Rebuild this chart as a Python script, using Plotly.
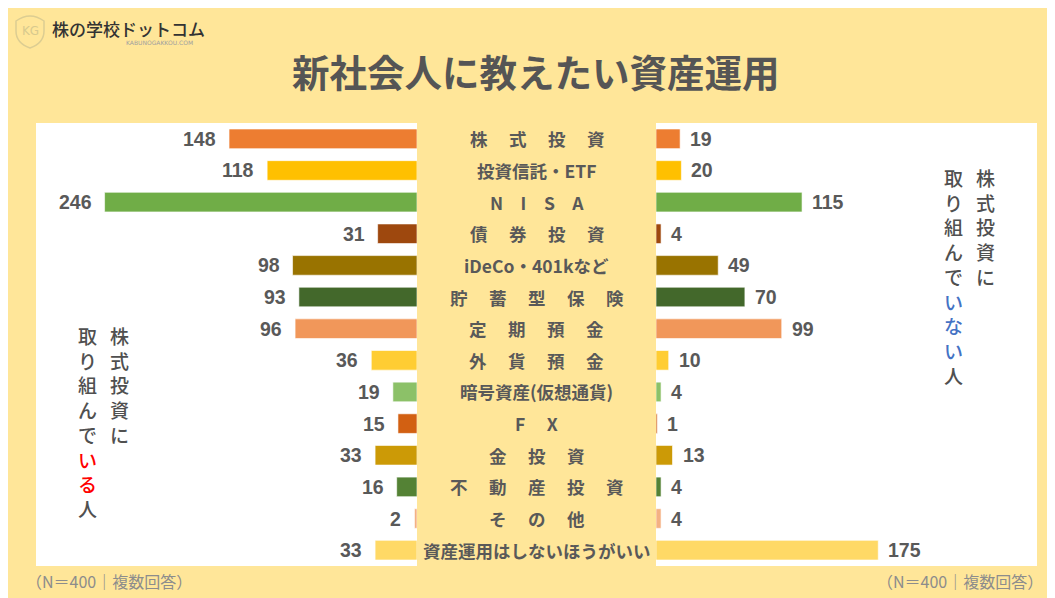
import plotly.graph_objects as go

# The page places the figure 8px from the top-left corner.
OFF = 8
W, H = 1055, 598 - OFF

categories = ["株式投資", "投資信託・ETF", "NISA", "債券投資", "iDeCo・401kなど", "貯蓄型保険",
              "定期預金", "外貨預金", "暗号資産(仮想通貨)", "FX", "金投資", "不動産投資", "その他",
              "資産運用はしないほうがいい"]
display_labels = ["株\u3000 式\u3000 投\u3000 資", "投資信託・ETF", "N\u3000I\u3000S\u3000A",
                  "債\u3000 券\u3000 投\u3000 資", "iDeCo・401kなど", "貯\u3000 蓄\u3000 型\u3000 保\u3000 険",
                  "定\u3000 期\u3000 預\u3000 金", "外\u3000 貨\u3000 預\u3000 金", "暗号資産(仮想通貨)",
                  "F\u3000 X", "金\u3000 投\u3000 資", "不\u3000 動\u3000 産\u3000 投\u3000 資",
                  "そ\u3000 の\u3000 他", "資産運用はしないほうがいい"]
investing = [148, 118, 246, 31, 98, 93, 96, 36, 19, 15, 33, 16, 2, 33]
not_investing = [19, 20, 115, 4, 49, 70, 99, 10, 4, 1, 13, 4, 4, 175]
colors = ["#ED7D31", "#FFC000", "#70AD47", "#9E480E", "#997300", "#43682B", "#F1975A",
          "#FFCD33", "#8CC168", "#D26012", "#CC9A06", "#548235", "#F4B183", "#FFD966"]

title_text = "新社会人に教えたい資産運用"
note_text = "（N＝400｜複数回答）"

YEL = "#FFE699"
GRAY = "#595959"
JP = "Noto Sans CJK JP"
NUM = "Liberation Sans"


def px(x):
    return (x - OFF) / W


def py(y):
    return 1 - (y - OFF) / H


fig = go.Figure()
fig.add_trace(go.Bar(y=categories, x=investing, orientation="h", xaxis="x", yaxis="y",
                     marker=dict(color=colors, line=dict(color="rgba(255,255,255,0.6)", width=1)),
                     width=0.62, hoverinfo="x+y", showlegend=False))
fig.add_trace(go.Bar(y=categories, x=not_investing, orientation="h", xaxis="x2", yaxis="y",
                     marker=dict(color=colors, line=dict(color="rgba(255,255,255,0.6)", width=1)),
                     width=0.62, hoverinfo="x+y", showlegend=False))

ann = []
for c, lab, a, b in zip(categories, display_labels, investing, not_investing):
    ann.append(dict(x=a, xref="x", y=c, yref="y", text=str(a), showarrow=False,
                    xanchor="right", xshift=-11,
                    font=dict(family=NUM, size=19.5, color=GRAY, weight="bold")))
    ann.append(dict(x=b, xref="x2", y=c, yref="y", text=str(b), showarrow=False,
                    xanchor="left", xshift=8,
                    font=dict(family=NUM, size=19.5, color=GRAY, weight="bold")))
    ann.append(dict(x=px((417 + 656) / 2), xref="paper", y=c, yref="y", text=lab, showarrow=False,
                    xanchor="center",
                    font=dict(family=JP, size=17.5, color=GRAY, weight="bold")))


def vert(s, col=None):
    out = []
    for ch in s:
        out.append(f"<span style='color:{col}'>{ch}</span>" if col else ch)
    return "<br>".join(out)


side_font = dict(family=JP, size=19, color="#505050", weight=500)
# left side text
ann.append(dict(x=px(119), y=py(320), xref="paper", yref="paper", xanchor="center", yanchor="top",
                text=vert("株式投資に"), showarrow=False, font=side_font))
ann.append(dict(x=px(87), y=py(320), xref="paper", yref="paper", xanchor="center", yanchor="top",
                text=vert("取り組んで") + "<br>" + vert("いる", "#FF0000") + "<br>" + vert("人"),
                showarrow=False, font=side_font))
# right side text
ann.append(dict(x=px(985), y=py(162), xref="paper", yref="paper", xanchor="center", yanchor="top",
                text=vert("株式投資に"), showarrow=False, font=side_font))
ann.append(dict(x=px(953), y=py(162), xref="paper", yref="paper", xanchor="center", yanchor="top",
                text=vert("取り組んで") + "<br>" + vert("いない", "#4472C4") + "<br>" + vert("人"),
                showarrow=False, font=side_font))

# title
ann.append(dict(x=px(536), y=py(70), xref="paper", yref="paper", xanchor="center", yanchor="middle",
                text=title_text, showarrow=False,
                font=dict(family=JP, size=37.5, color="#555555", weight="bold")))
# notes
ann.append(dict(x=px(24), y=py(581), xref="paper", yref="paper", xanchor="left", yanchor="middle",
                text=note_text, showarrow=False, font=dict(family=JP, size=16, color="#8C8C8C")))
ann.append(dict(x=px(1045), y=py(581), xref="paper", yref="paper", xanchor="right", yanchor="middle",
                text=note_text, showarrow=False, font=dict(family=JP, size=16, color="#8C8C8C")))
# logo
ann.append(dict(x=px(50), y=py(29), xref="paper", yref="paper", xanchor="left", yanchor="middle",
                text="株の学校ドットコム", showarrow=False,
                font=dict(family=JP, size=17, color="#333333", weight=500)))
ann.append(dict(x=px(124), y=py(43), xref="paper", yref="paper", xanchor="left", yanchor="middle",
                text="KABUNOGAKKOU.COM", showarrow=False,
                font=dict(family="DejaVu Sans", size=6, color="#A0A0A0")))
ann.append(dict(x=px(30), y=py(31), xref="paper", yref="paper", xanchor="center", yanchor="middle",
                text="KG", showarrow=False,
                font=dict(family="DejaVu Sans", size=12, color="#D8CA8E")))

shield = (f"M {px(16)},{py(21)} Q {px(30)},{py(11)} {px(44)},{py(21)} L {px(44)},{py(31)} "
          f"Q {px(44)},{py(43)} {px(30)},{py(48)} Q {px(16)},{py(43)} {px(16)},{py(31)} Z")

shapes = [
    dict(type="rect", xref="paper", yref="paper", x0=px(36), x1=px(1037), y0=py(566), y1=py(123),
         fillcolor="white", line=dict(width=0), layer="below"),
    dict(type="rect", xref="paper", yref="paper", x0=px(417), x1=px(656), y0=py(567), y1=py(123),
         fillcolor=YEL, line=dict(width=0), layer="below"),
    dict(type="path", xref="paper", yref="paper", path=shield,
         line=dict(color="#DCCD92", width=1.5), fillcolor="rgba(0,0,0,0)"),
]

fig.update_layout(
    width=W, height=H, autosize=False,
    margin=dict(l=0, r=0, t=0, b=0),
    paper_bgcolor=YEL, plot_bgcolor="rgba(0,0,0,0)",
    barmode="overlay",
    xaxis=dict(domain=[px(36), px(417)], range=[300, 0], visible=False, fixedrange=True),
    xaxis2=dict(domain=[px(656), px(1037)], range=[0, 300], visible=False, anchor="y", fixedrange=True),
    yaxis=dict(domain=[py(566), py(123)], type="category", categoryorder="array",
               categoryarray=categories, range=[13.5, -0.5], visible=False, fixedrange=True),
    shapes=shapes, annotations=ann,
    font=dict(family=JP),
)

fig.write_html("out.html")
